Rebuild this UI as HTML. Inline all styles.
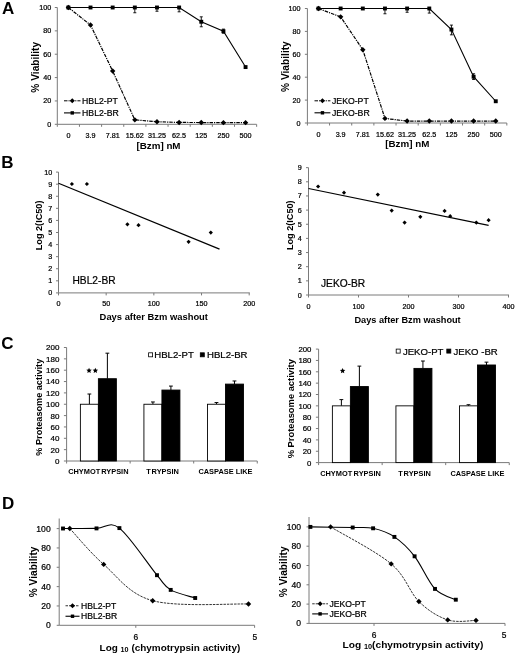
<!DOCTYPE html>
<html><head><meta charset="utf-8"><style>
html,body{margin:0;padding:0;background:#fff;}
svg{display:block;font-family:"Liberation Sans", sans-serif;filter:blur(0.3px);}
</style></head><body>
<svg width="520" height="654" viewBox="0 0 520 654">
<rect width="520" height="654" fill="#fff"/>
<text x="2.00" y="13.50" font-size="17" text-anchor="start" font-weight="bold" fill="#000">A</text>
<text x="1.30" y="167.50" font-size="17" text-anchor="start" font-weight="bold" fill="#000">B</text>
<text x="1.20" y="349.00" font-size="17" text-anchor="start" font-weight="bold" fill="#000">C</text>
<text x="1.90" y="508.50" font-size="17" text-anchor="start" font-weight="bold" fill="#000">D</text>
<line x1="57.30" y1="7.50" x2="57.30" y2="124.30" stroke="#7a7a7a" stroke-width="1"/>
<line x1="57.30" y1="124.30" x2="256.60" y2="124.30" stroke="#7a7a7a" stroke-width="1"/>
<line x1="54.80" y1="124.30" x2="57.30" y2="124.30" stroke="#7a7a7a" stroke-width="1"/>
<text x="51.30" y="126.80" font-size="7.2" text-anchor="end" stroke="#000" stroke-width="0.22" fill="#000">0</text>
<line x1="54.80" y1="100.94" x2="57.30" y2="100.94" stroke="#7a7a7a" stroke-width="1"/>
<text x="51.30" y="103.44" font-size="7.2" text-anchor="end" stroke="#000" stroke-width="0.22" fill="#000">20</text>
<line x1="54.80" y1="77.58" x2="57.30" y2="77.58" stroke="#7a7a7a" stroke-width="1"/>
<text x="51.30" y="80.08" font-size="7.2" text-anchor="end" stroke="#000" stroke-width="0.22" fill="#000">40</text>
<line x1="54.80" y1="54.22" x2="57.30" y2="54.22" stroke="#7a7a7a" stroke-width="1"/>
<text x="51.30" y="56.72" font-size="7.2" text-anchor="end" stroke="#000" stroke-width="0.22" fill="#000">60</text>
<line x1="54.80" y1="30.86" x2="57.30" y2="30.86" stroke="#7a7a7a" stroke-width="1"/>
<text x="51.30" y="33.36" font-size="7.2" text-anchor="end" stroke="#000" stroke-width="0.22" fill="#000">80</text>
<line x1="54.80" y1="7.50" x2="57.30" y2="7.50" stroke="#7a7a7a" stroke-width="1"/>
<text x="51.30" y="10.00" font-size="7.2" text-anchor="end" stroke="#000" stroke-width="0.22" fill="#000">100</text>
<line x1="57.30" y1="124.30" x2="57.30" y2="126.80" stroke="#7a7a7a" stroke-width="1"/>
<line x1="79.45" y1="124.30" x2="79.45" y2="126.80" stroke="#7a7a7a" stroke-width="1"/>
<line x1="101.60" y1="124.30" x2="101.60" y2="126.80" stroke="#7a7a7a" stroke-width="1"/>
<line x1="123.75" y1="124.30" x2="123.75" y2="126.80" stroke="#7a7a7a" stroke-width="1"/>
<line x1="145.90" y1="124.30" x2="145.90" y2="126.80" stroke="#7a7a7a" stroke-width="1"/>
<line x1="168.05" y1="124.30" x2="168.05" y2="126.80" stroke="#7a7a7a" stroke-width="1"/>
<line x1="190.20" y1="124.30" x2="190.20" y2="126.80" stroke="#7a7a7a" stroke-width="1"/>
<line x1="212.35" y1="124.30" x2="212.35" y2="126.80" stroke="#7a7a7a" stroke-width="1"/>
<line x1="234.50" y1="124.30" x2="234.50" y2="126.80" stroke="#7a7a7a" stroke-width="1"/>
<line x1="256.65" y1="124.30" x2="256.65" y2="126.80" stroke="#7a7a7a" stroke-width="1"/>
<text x="68.38" y="138.00" font-size="7.2" text-anchor="middle" stroke="#000" stroke-width="0.22" fill="#000">0</text>
<text x="90.52" y="138.00" font-size="7.2" text-anchor="middle" stroke="#000" stroke-width="0.22" fill="#000">3.9</text>
<text x="112.67" y="138.00" font-size="7.2" text-anchor="middle" stroke="#000" stroke-width="0.22" fill="#000">7.81</text>
<text x="134.82" y="138.00" font-size="7.2" text-anchor="middle" stroke="#000" stroke-width="0.22" fill="#000">15.62</text>
<text x="156.97" y="138.00" font-size="7.2" text-anchor="middle" stroke="#000" stroke-width="0.22" fill="#000">31.25</text>
<text x="179.12" y="138.00" font-size="7.2" text-anchor="middle" stroke="#000" stroke-width="0.22" fill="#000">62.5</text>
<text x="201.27" y="138.00" font-size="7.2" text-anchor="middle" stroke="#000" stroke-width="0.22" fill="#000">125</text>
<text x="223.43" y="138.00" font-size="7.2" text-anchor="middle" stroke="#000" stroke-width="0.22" fill="#000">250</text>
<text x="245.57" y="138.00" font-size="7.2" text-anchor="middle" stroke="#000" stroke-width="0.22" fill="#000">500</text>
<line x1="134.82" y1="7.50" x2="134.82" y2="12.76" stroke="#000" stroke-width="0.9"/>
<line x1="133.32" y1="12.76" x2="136.32" y2="12.76" stroke="#000" stroke-width="0.9"/>
<line x1="156.97" y1="7.50" x2="156.97" y2="11.24" stroke="#000" stroke-width="0.9"/>
<line x1="155.47" y1="11.24" x2="158.47" y2="11.24" stroke="#000" stroke-width="0.9"/>
<line x1="179.12" y1="7.50" x2="179.12" y2="11.82" stroke="#000" stroke-width="0.9"/>
<line x1="177.62" y1="11.82" x2="180.62" y2="11.82" stroke="#000" stroke-width="0.9"/>
<line x1="201.27" y1="21.75" x2="201.27" y2="16.84" stroke="#000" stroke-width="0.9"/>
<line x1="199.77" y1="16.84" x2="202.77" y2="16.84" stroke="#000" stroke-width="0.9"/>
<line x1="201.27" y1="21.75" x2="201.27" y2="26.77" stroke="#000" stroke-width="0.9"/>
<line x1="199.77" y1="26.77" x2="202.77" y2="26.77" stroke="#000" stroke-width="0.9"/>
<line x1="223.43" y1="31.21" x2="223.43" y2="29.11" stroke="#000" stroke-width="0.9"/>
<line x1="221.93" y1="29.11" x2="224.93" y2="29.11" stroke="#000" stroke-width="0.9"/>
<line x1="223.43" y1="31.21" x2="223.43" y2="33.20" stroke="#000" stroke-width="0.9"/>
<line x1="221.93" y1="33.20" x2="224.93" y2="33.20" stroke="#000" stroke-width="0.9"/>
<polyline points="68.38,7.50 90.52,7.50 112.67,7.50 134.82,7.50 156.97,7.50 179.12,7.50 201.27,21.75 223.43,31.21 245.57,67.07" fill="none" stroke="#000" stroke-width="1.1"/>
<polyline points="68.38,7.50 90.52,25.02 112.67,71.04 134.82,119.86 156.97,121.73 179.12,122.43 201.27,122.55 223.43,122.66 245.57,122.66" fill="none" stroke="#000" stroke-width="1.2" stroke-dasharray="3.5 1 1.2 1"/>
<rect x="66.42" y="5.55" width="3.9" height="3.9" fill="#000"/>
<rect x="88.57" y="5.55" width="3.9" height="3.9" fill="#000"/>
<rect x="110.72" y="5.55" width="3.9" height="3.9" fill="#000"/>
<rect x="132.88" y="5.55" width="3.9" height="3.9" fill="#000"/>
<rect x="155.03" y="5.55" width="3.9" height="3.9" fill="#000"/>
<rect x="177.18" y="5.55" width="3.9" height="3.9" fill="#000"/>
<rect x="199.32" y="19.80" width="3.9" height="3.9" fill="#000"/>
<rect x="221.48" y="29.26" width="3.9" height="3.9" fill="#000"/>
<rect x="243.62" y="65.12" width="3.9" height="3.9" fill="#000"/>
<path d="M68.38 4.80L71.08 7.50L68.38 10.20L65.67 7.50Z" fill="#000"/>
<path d="M90.52 22.32L93.22 25.02L90.52 27.72L87.82 25.02Z" fill="#000"/>
<path d="M112.67 68.34L115.38 71.04L112.67 73.74L109.97 71.04Z" fill="#000"/>
<path d="M134.82 117.16L137.52 119.86L134.82 122.56L132.12 119.86Z" fill="#000"/>
<path d="M156.97 119.03L159.67 121.73L156.97 124.43L154.28 121.73Z" fill="#000"/>
<path d="M179.12 119.73L181.82 122.43L179.12 125.13L176.43 122.43Z" fill="#000"/>
<path d="M201.27 119.85L203.97 122.55L201.27 125.25L198.57 122.55Z" fill="#000"/>
<path d="M223.43 119.96L226.12 122.66L223.43 125.36L220.73 122.66Z" fill="#000"/>
<path d="M245.57 119.96L248.27 122.66L245.57 125.36L242.88 122.66Z" fill="#000"/>
<line x1="64.00" y1="100.80" x2="80.50" y2="100.80" stroke="#000" stroke-width="1" stroke-dasharray="3.5 1 1.2 1"/>
<path d="M72.25 98.30L74.75 100.80L72.25 103.30L69.75 100.80Z" fill="#000"/>
<line x1="64.00" y1="112.90" x2="80.50" y2="112.90" stroke="#000" stroke-width="1.1"/>
<rect x="70.55" y="111.20" width="3.4" height="3.4" fill="#000"/>
<text x="82.10" y="104.30" font-size="8.7" text-anchor="start" stroke="#000" stroke-width="0.22" fill="#000">HBL2-PT</text>
<text x="82.10" y="116.40" font-size="8.7" text-anchor="start" stroke="#000" stroke-width="0.22" fill="#000">HBL2-BR</text>
<text x="39.10" y="67.30" font-size="10.2" text-anchor="middle" font-weight="bold" transform="rotate(-90 39.10 67.30)" fill="#000">% Viability</text>
<text x="158.50" y="148.70" font-size="9.8" text-anchor="middle" font-weight="bold" fill="#000">[Bzm] nM</text>
<line x1="307.40" y1="8.50" x2="307.40" y2="123.00" stroke="#7a7a7a" stroke-width="1"/>
<line x1="307.40" y1="123.00" x2="506.80" y2="123.00" stroke="#7a7a7a" stroke-width="1"/>
<line x1="304.90" y1="123.00" x2="307.40" y2="123.00" stroke="#7a7a7a" stroke-width="1"/>
<text x="300.40" y="125.50" font-size="7.2" text-anchor="end" stroke="#000" stroke-width="0.22" fill="#000">0</text>
<line x1="304.90" y1="100.10" x2="307.40" y2="100.10" stroke="#7a7a7a" stroke-width="1"/>
<text x="300.40" y="102.60" font-size="7.2" text-anchor="end" stroke="#000" stroke-width="0.22" fill="#000">20</text>
<line x1="304.90" y1="77.20" x2="307.40" y2="77.20" stroke="#7a7a7a" stroke-width="1"/>
<text x="300.40" y="79.70" font-size="7.2" text-anchor="end" stroke="#000" stroke-width="0.22" fill="#000">40</text>
<line x1="304.90" y1="54.30" x2="307.40" y2="54.30" stroke="#7a7a7a" stroke-width="1"/>
<text x="300.40" y="56.80" font-size="7.2" text-anchor="end" stroke="#000" stroke-width="0.22" fill="#000">60</text>
<line x1="304.90" y1="31.40" x2="307.40" y2="31.40" stroke="#7a7a7a" stroke-width="1"/>
<text x="300.40" y="33.90" font-size="7.2" text-anchor="end" stroke="#000" stroke-width="0.22" fill="#000">80</text>
<line x1="304.90" y1="8.50" x2="307.40" y2="8.50" stroke="#7a7a7a" stroke-width="1"/>
<text x="300.40" y="11.00" font-size="7.2" text-anchor="end" stroke="#000" stroke-width="0.22" fill="#000">100</text>
<line x1="307.40" y1="123.00" x2="307.40" y2="125.50" stroke="#7a7a7a" stroke-width="1"/>
<line x1="329.56" y1="123.00" x2="329.56" y2="125.50" stroke="#7a7a7a" stroke-width="1"/>
<line x1="351.72" y1="123.00" x2="351.72" y2="125.50" stroke="#7a7a7a" stroke-width="1"/>
<line x1="373.88" y1="123.00" x2="373.88" y2="125.50" stroke="#7a7a7a" stroke-width="1"/>
<line x1="396.04" y1="123.00" x2="396.04" y2="125.50" stroke="#7a7a7a" stroke-width="1"/>
<line x1="418.20" y1="123.00" x2="418.20" y2="125.50" stroke="#7a7a7a" stroke-width="1"/>
<line x1="440.36" y1="123.00" x2="440.36" y2="125.50" stroke="#7a7a7a" stroke-width="1"/>
<line x1="462.52" y1="123.00" x2="462.52" y2="125.50" stroke="#7a7a7a" stroke-width="1"/>
<line x1="484.68" y1="123.00" x2="484.68" y2="125.50" stroke="#7a7a7a" stroke-width="1"/>
<line x1="506.84" y1="123.00" x2="506.84" y2="125.50" stroke="#7a7a7a" stroke-width="1"/>
<text x="318.48" y="137.10" font-size="7.2" text-anchor="middle" stroke="#000" stroke-width="0.22" fill="#000">0</text>
<text x="340.64" y="137.10" font-size="7.2" text-anchor="middle" stroke="#000" stroke-width="0.22" fill="#000">3.9</text>
<text x="362.80" y="137.10" font-size="7.2" text-anchor="middle" stroke="#000" stroke-width="0.22" fill="#000">7.81</text>
<text x="384.96" y="137.10" font-size="7.2" text-anchor="middle" stroke="#000" stroke-width="0.22" fill="#000">15.62</text>
<text x="407.12" y="137.10" font-size="7.2" text-anchor="middle" stroke="#000" stroke-width="0.22" fill="#000">31.25</text>
<text x="429.28" y="137.10" font-size="7.2" text-anchor="middle" stroke="#000" stroke-width="0.22" fill="#000">62.5</text>
<text x="451.44" y="137.10" font-size="7.2" text-anchor="middle" stroke="#000" stroke-width="0.22" fill="#000">125</text>
<text x="473.60" y="137.10" font-size="7.2" text-anchor="middle" stroke="#000" stroke-width="0.22" fill="#000">250</text>
<text x="495.76" y="137.10" font-size="7.2" text-anchor="middle" stroke="#000" stroke-width="0.22" fill="#000">500</text>
<line x1="384.96" y1="8.50" x2="384.96" y2="13.77" stroke="#000" stroke-width="0.9"/>
<line x1="383.46" y1="13.77" x2="386.46" y2="13.77" stroke="#000" stroke-width="0.9"/>
<line x1="407.12" y1="8.50" x2="407.12" y2="12.28" stroke="#000" stroke-width="0.9"/>
<line x1="405.62" y1="12.28" x2="408.62" y2="12.28" stroke="#000" stroke-width="0.9"/>
<line x1="429.28" y1="8.50" x2="429.28" y2="13.08" stroke="#000" stroke-width="0.9"/>
<line x1="427.78" y1="13.08" x2="430.78" y2="13.08" stroke="#000" stroke-width="0.9"/>
<line x1="451.44" y1="29.57" x2="451.44" y2="25.10" stroke="#000" stroke-width="0.9"/>
<line x1="449.94" y1="25.10" x2="452.94" y2="25.10" stroke="#000" stroke-width="0.9"/>
<line x1="451.44" y1="29.57" x2="451.44" y2="34.83" stroke="#000" stroke-width="0.9"/>
<line x1="449.94" y1="34.83" x2="452.94" y2="34.83" stroke="#000" stroke-width="0.9"/>
<line x1="473.60" y1="76.74" x2="473.60" y2="73.77" stroke="#000" stroke-width="0.9"/>
<line x1="472.10" y1="73.77" x2="475.10" y2="73.77" stroke="#000" stroke-width="0.9"/>
<line x1="473.60" y1="76.74" x2="473.60" y2="79.49" stroke="#000" stroke-width="0.9"/>
<line x1="472.10" y1="79.49" x2="475.10" y2="79.49" stroke="#000" stroke-width="0.9"/>
<polyline points="318.48,8.50 340.64,8.50 362.80,8.50 384.96,8.50 407.12,8.50 429.28,8.50 451.44,29.57 473.60,76.74 495.76,101.25" fill="none" stroke="#000" stroke-width="1.1"/>
<polyline points="318.48,8.50 340.64,16.86 362.80,49.72 384.96,118.42 407.12,121.05 429.28,121.05 451.44,121.05 473.60,121.05 495.76,121.05" fill="none" stroke="#000" stroke-width="1.2" stroke-dasharray="3.5 1 1.2 1"/>
<rect x="316.53" y="6.55" width="3.9" height="3.9" fill="#000"/>
<rect x="338.69" y="6.55" width="3.9" height="3.9" fill="#000"/>
<rect x="360.85" y="6.55" width="3.9" height="3.9" fill="#000"/>
<rect x="383.01" y="6.55" width="3.9" height="3.9" fill="#000"/>
<rect x="405.17" y="6.55" width="3.9" height="3.9" fill="#000"/>
<rect x="427.33" y="6.55" width="3.9" height="3.9" fill="#000"/>
<rect x="449.49" y="27.62" width="3.9" height="3.9" fill="#000"/>
<rect x="471.65" y="74.79" width="3.9" height="3.9" fill="#000"/>
<rect x="493.81" y="99.30" width="3.9" height="3.9" fill="#000"/>
<path d="M318.48 5.80L321.18 8.50L318.48 11.20L315.78 8.50Z" fill="#000"/>
<path d="M340.64 14.16L343.34 16.86L340.64 19.56L337.94 16.86Z" fill="#000"/>
<path d="M362.80 47.02L365.50 49.72L362.80 52.42L360.10 49.72Z" fill="#000"/>
<path d="M384.96 115.72L387.66 118.42L384.96 121.12L382.26 118.42Z" fill="#000"/>
<path d="M407.12 118.35L409.82 121.05L407.12 123.75L404.42 121.05Z" fill="#000"/>
<path d="M429.28 118.35L431.98 121.05L429.28 123.75L426.58 121.05Z" fill="#000"/>
<path d="M451.44 118.35L454.14 121.05L451.44 123.75L448.74 121.05Z" fill="#000"/>
<path d="M473.60 118.35L476.30 121.05L473.60 123.75L470.90 121.05Z" fill="#000"/>
<path d="M495.76 118.35L498.46 121.05L495.76 123.75L493.06 121.05Z" fill="#000"/>
<line x1="314.50" y1="100.80" x2="330.40" y2="100.80" stroke="#000" stroke-width="1" stroke-dasharray="3.5 1 1.2 1"/>
<path d="M322.45 98.30L324.95 100.80L322.45 103.30L319.95 100.80Z" fill="#000"/>
<line x1="314.50" y1="112.80" x2="330.40" y2="112.80" stroke="#000" stroke-width="1.1"/>
<rect x="320.75" y="111.10" width="3.4" height="3.4" fill="#000"/>
<text x="332.00" y="104.30" font-size="8.7" text-anchor="start" stroke="#000" stroke-width="0.22" fill="#000">JEKO-PT</text>
<text x="332.00" y="116.30" font-size="8.7" text-anchor="start" stroke="#000" stroke-width="0.22" fill="#000">JEKO-BR</text>
<text x="288.80" y="66.60" font-size="10.2" text-anchor="middle" font-weight="bold" transform="rotate(-90 288.80 66.60)" fill="#000">% Viability</text>
<text x="407.30" y="147.10" font-size="9.8" text-anchor="middle" font-weight="bold" fill="#000">[Bzm] nM</text>
<line x1="58.50" y1="172.10" x2="58.50" y2="292.90" stroke="#7a7a7a" stroke-width="1"/>
<line x1="58.50" y1="292.90" x2="249.80" y2="292.90" stroke="#7a7a7a" stroke-width="1"/>
<line x1="56.00" y1="292.90" x2="58.50" y2="292.90" stroke="#7a7a7a" stroke-width="1"/>
<text x="52.30" y="295.40" font-size="7.2" text-anchor="end" stroke="#000" stroke-width="0.22" fill="#000">0</text>
<line x1="56.00" y1="280.82" x2="58.50" y2="280.82" stroke="#7a7a7a" stroke-width="1"/>
<text x="52.30" y="283.32" font-size="7.2" text-anchor="end" stroke="#000" stroke-width="0.22" fill="#000">1</text>
<line x1="56.00" y1="268.74" x2="58.50" y2="268.74" stroke="#7a7a7a" stroke-width="1"/>
<text x="52.30" y="271.24" font-size="7.2" text-anchor="end" stroke="#000" stroke-width="0.22" fill="#000">2</text>
<line x1="56.00" y1="256.66" x2="58.50" y2="256.66" stroke="#7a7a7a" stroke-width="1"/>
<text x="52.30" y="259.16" font-size="7.2" text-anchor="end" stroke="#000" stroke-width="0.22" fill="#000">3</text>
<line x1="56.00" y1="244.58" x2="58.50" y2="244.58" stroke="#7a7a7a" stroke-width="1"/>
<text x="52.30" y="247.08" font-size="7.2" text-anchor="end" stroke="#000" stroke-width="0.22" fill="#000">4</text>
<line x1="56.00" y1="232.50" x2="58.50" y2="232.50" stroke="#7a7a7a" stroke-width="1"/>
<text x="52.30" y="235.00" font-size="7.2" text-anchor="end" stroke="#000" stroke-width="0.22" fill="#000">5</text>
<line x1="56.00" y1="220.42" x2="58.50" y2="220.42" stroke="#7a7a7a" stroke-width="1"/>
<text x="52.30" y="222.92" font-size="7.2" text-anchor="end" stroke="#000" stroke-width="0.22" fill="#000">6</text>
<line x1="56.00" y1="208.34" x2="58.50" y2="208.34" stroke="#7a7a7a" stroke-width="1"/>
<text x="52.30" y="210.84" font-size="7.2" text-anchor="end" stroke="#000" stroke-width="0.22" fill="#000">7</text>
<line x1="56.00" y1="196.26" x2="58.50" y2="196.26" stroke="#7a7a7a" stroke-width="1"/>
<text x="52.30" y="198.76" font-size="7.2" text-anchor="end" stroke="#000" stroke-width="0.22" fill="#000">8</text>
<line x1="56.00" y1="184.18" x2="58.50" y2="184.18" stroke="#7a7a7a" stroke-width="1"/>
<text x="52.30" y="186.68" font-size="7.2" text-anchor="end" stroke="#000" stroke-width="0.22" fill="#000">9</text>
<line x1="56.00" y1="172.10" x2="58.50" y2="172.10" stroke="#7a7a7a" stroke-width="1"/>
<text x="52.30" y="174.60" font-size="7.2" text-anchor="end" stroke="#000" stroke-width="0.22" fill="#000">10</text>
<line x1="58.50" y1="292.90" x2="58.50" y2="295.40" stroke="#7a7a7a" stroke-width="1"/>
<text x="58.50" y="306.30" font-size="7.2" text-anchor="middle" stroke="#000" stroke-width="0.22" fill="#000">0</text>
<line x1="106.17" y1="292.90" x2="106.17" y2="295.40" stroke="#7a7a7a" stroke-width="1"/>
<text x="106.17" y="306.30" font-size="7.2" text-anchor="middle" stroke="#000" stroke-width="0.22" fill="#000">50</text>
<line x1="153.85" y1="292.90" x2="153.85" y2="295.40" stroke="#7a7a7a" stroke-width="1"/>
<text x="153.85" y="306.30" font-size="7.2" text-anchor="middle" stroke="#000" stroke-width="0.22" fill="#000">100</text>
<line x1="201.53" y1="292.90" x2="201.53" y2="295.40" stroke="#7a7a7a" stroke-width="1"/>
<text x="201.53" y="306.30" font-size="7.2" text-anchor="middle" stroke="#000" stroke-width="0.22" fill="#000">150</text>
<line x1="249.20" y1="292.90" x2="249.20" y2="295.40" stroke="#7a7a7a" stroke-width="1"/>
<text x="249.20" y="306.30" font-size="7.2" text-anchor="middle" stroke="#000" stroke-width="0.22" fill="#000">200</text>
<line x1="58.50" y1="183.20" x2="219.50" y2="249.10" stroke="#000" stroke-width="1.2"/>
<path d="M71.90 181.90L74.00 184.00L71.90 186.10L69.80 184.00Z" fill="#000"/>
<path d="M86.90 181.90L89.00 184.00L86.90 186.10L84.80 184.00Z" fill="#000"/>
<path d="M127.40 222.20L129.50 224.30L127.40 226.40L125.30 224.30Z" fill="#000"/>
<path d="M138.50 223.10L140.60 225.20L138.50 227.30L136.40 225.20Z" fill="#000"/>
<path d="M188.60 239.70L190.70 241.80L188.60 243.90L186.50 241.80Z" fill="#000"/>
<path d="M210.80 230.50L212.90 232.60L210.80 234.70L208.70 232.60Z" fill="#000"/>
<text x="72.50" y="284.20" font-size="10.2" text-anchor="start" stroke="#000" stroke-width="0.22" fill="#000">HBL2-BR</text>
<text x="42.00" y="225.40" font-size="9.15" text-anchor="middle" font-weight="bold" transform="rotate(-90 42.00 225.40)" fill="#000">Log 2(IC50)</text>
<text x="153.80" y="320.40" font-size="9.4" text-anchor="middle" font-weight="bold" fill="#000">Days after Bzm washout</text>
<line x1="308.50" y1="167.65" x2="308.50" y2="295.00" stroke="#7a7a7a" stroke-width="1"/>
<line x1="308.50" y1="295.00" x2="509.00" y2="295.00" stroke="#7a7a7a" stroke-width="1"/>
<line x1="306.00" y1="295.00" x2="308.50" y2="295.00" stroke="#7a7a7a" stroke-width="1"/>
<text x="301.80" y="297.50" font-size="7.2" text-anchor="end" stroke="#000" stroke-width="0.22" fill="#000">0</text>
<line x1="306.00" y1="280.85" x2="308.50" y2="280.85" stroke="#7a7a7a" stroke-width="1"/>
<text x="301.80" y="283.35" font-size="7.2" text-anchor="end" stroke="#000" stroke-width="0.22" fill="#000">1</text>
<line x1="306.00" y1="266.70" x2="308.50" y2="266.70" stroke="#7a7a7a" stroke-width="1"/>
<text x="301.80" y="269.20" font-size="7.2" text-anchor="end" stroke="#000" stroke-width="0.22" fill="#000">2</text>
<line x1="306.00" y1="252.55" x2="308.50" y2="252.55" stroke="#7a7a7a" stroke-width="1"/>
<text x="301.80" y="255.05" font-size="7.2" text-anchor="end" stroke="#000" stroke-width="0.22" fill="#000">3</text>
<line x1="306.00" y1="238.40" x2="308.50" y2="238.40" stroke="#7a7a7a" stroke-width="1"/>
<text x="301.80" y="240.90" font-size="7.2" text-anchor="end" stroke="#000" stroke-width="0.22" fill="#000">4</text>
<line x1="306.00" y1="224.25" x2="308.50" y2="224.25" stroke="#7a7a7a" stroke-width="1"/>
<text x="301.80" y="226.75" font-size="7.2" text-anchor="end" stroke="#000" stroke-width="0.22" fill="#000">5</text>
<line x1="306.00" y1="210.10" x2="308.50" y2="210.10" stroke="#7a7a7a" stroke-width="1"/>
<text x="301.80" y="212.60" font-size="7.2" text-anchor="end" stroke="#000" stroke-width="0.22" fill="#000">6</text>
<line x1="306.00" y1="195.95" x2="308.50" y2="195.95" stroke="#7a7a7a" stroke-width="1"/>
<text x="301.80" y="198.45" font-size="7.2" text-anchor="end" stroke="#000" stroke-width="0.22" fill="#000">7</text>
<line x1="306.00" y1="181.80" x2="308.50" y2="181.80" stroke="#7a7a7a" stroke-width="1"/>
<text x="301.80" y="184.30" font-size="7.2" text-anchor="end" stroke="#000" stroke-width="0.22" fill="#000">8</text>
<line x1="306.00" y1="167.65" x2="308.50" y2="167.65" stroke="#7a7a7a" stroke-width="1"/>
<text x="301.80" y="170.15" font-size="7.2" text-anchor="end" stroke="#000" stroke-width="0.22" fill="#000">9</text>
<line x1="308.50" y1="295.00" x2="308.50" y2="297.50" stroke="#7a7a7a" stroke-width="1"/>
<text x="308.50" y="308.50" font-size="7.2" text-anchor="middle" stroke="#000" stroke-width="0.22" fill="#000">0</text>
<line x1="358.50" y1="295.00" x2="358.50" y2="297.50" stroke="#7a7a7a" stroke-width="1"/>
<text x="358.50" y="308.50" font-size="7.2" text-anchor="middle" stroke="#000" stroke-width="0.22" fill="#000">100</text>
<line x1="408.50" y1="295.00" x2="408.50" y2="297.50" stroke="#7a7a7a" stroke-width="1"/>
<text x="408.50" y="308.50" font-size="7.2" text-anchor="middle" stroke="#000" stroke-width="0.22" fill="#000">200</text>
<line x1="458.50" y1="295.00" x2="458.50" y2="297.50" stroke="#7a7a7a" stroke-width="1"/>
<text x="458.50" y="308.50" font-size="7.2" text-anchor="middle" stroke="#000" stroke-width="0.22" fill="#000">300</text>
<line x1="508.50" y1="295.00" x2="508.50" y2="297.50" stroke="#7a7a7a" stroke-width="1"/>
<text x="508.50" y="308.50" font-size="7.2" text-anchor="middle" stroke="#000" stroke-width="0.22" fill="#000">400</text>
<line x1="308.50" y1="188.50" x2="488.60" y2="225.40" stroke="#000" stroke-width="1.2"/>
<path d="M318.10 184.40L320.20 186.50L318.10 188.60L316.00 186.50Z" fill="#000"/>
<path d="M344.00 190.60L346.10 192.70L344.00 194.80L341.90 192.70Z" fill="#000"/>
<path d="M377.80 192.50L379.90 194.60L377.80 196.70L375.70 194.60Z" fill="#000"/>
<path d="M391.70 208.50L393.80 210.60L391.70 212.70L389.60 210.60Z" fill="#000"/>
<path d="M404.60 220.50L406.70 222.60L404.60 224.70L402.50 222.60Z" fill="#000"/>
<path d="M420.30 214.70L422.40 216.80L420.30 218.90L418.20 216.80Z" fill="#000"/>
<path d="M444.60 208.80L446.70 210.90L444.60 213.00L442.50 210.90Z" fill="#000"/>
<path d="M450.20 214.10L452.30 216.20L450.20 218.30L448.10 216.20Z" fill="#000"/>
<path d="M476.30 220.50L478.40 222.60L476.30 224.70L474.20 222.60Z" fill="#000"/>
<path d="M488.60 218.10L490.70 220.20L488.60 222.30L486.50 220.20Z" fill="#000"/>
<text x="321.00" y="286.70" font-size="10.2" text-anchor="start" stroke="#000" stroke-width="0.22" fill="#000">JEKO-BR</text>
<text x="293.20" y="225.20" font-size="9.15" text-anchor="middle" font-weight="bold" transform="rotate(-90 293.20 225.20)" fill="#000">Log 2(IC50)</text>
<text x="407.60" y="323.00" font-size="9.2" text-anchor="middle" font-weight="bold" fill="#000">Days after Bzm washout</text>
<line x1="66.60" y1="347.50" x2="66.60" y2="461.00" stroke="#7a7a7a" stroke-width="1"/>
<line x1="66.60" y1="461.00" x2="257.25" y2="461.00" stroke="#7a7a7a" stroke-width="1"/>
<line x1="63.90" y1="461.00" x2="66.60" y2="461.00" stroke="#7a7a7a" stroke-width="1"/>
<text x="59.40" y="463.90" font-size="8.0" text-anchor="end" stroke="#000" stroke-width="0.22" fill="#000">0</text>
<line x1="63.90" y1="449.65" x2="66.60" y2="449.65" stroke="#7a7a7a" stroke-width="1"/>
<text x="59.40" y="452.55" font-size="8.0" text-anchor="end" stroke="#000" stroke-width="0.22" fill="#000">20</text>
<line x1="63.90" y1="438.30" x2="66.60" y2="438.30" stroke="#7a7a7a" stroke-width="1"/>
<text x="59.40" y="441.20" font-size="8.0" text-anchor="end" stroke="#000" stroke-width="0.22" fill="#000">40</text>
<line x1="63.90" y1="426.95" x2="66.60" y2="426.95" stroke="#7a7a7a" stroke-width="1"/>
<text x="59.40" y="429.85" font-size="8.0" text-anchor="end" stroke="#000" stroke-width="0.22" fill="#000">60</text>
<line x1="63.90" y1="415.60" x2="66.60" y2="415.60" stroke="#7a7a7a" stroke-width="1"/>
<text x="59.40" y="418.50" font-size="8.0" text-anchor="end" stroke="#000" stroke-width="0.22" fill="#000">80</text>
<line x1="63.90" y1="404.25" x2="66.60" y2="404.25" stroke="#7a7a7a" stroke-width="1"/>
<text x="59.40" y="407.15" font-size="8.0" text-anchor="end" stroke="#000" stroke-width="0.22" fill="#000">100</text>
<line x1="63.90" y1="392.90" x2="66.60" y2="392.90" stroke="#7a7a7a" stroke-width="1"/>
<text x="59.40" y="395.80" font-size="8.0" text-anchor="end" stroke="#000" stroke-width="0.22" fill="#000">120</text>
<line x1="63.90" y1="381.55" x2="66.60" y2="381.55" stroke="#7a7a7a" stroke-width="1"/>
<text x="59.40" y="384.45" font-size="8.0" text-anchor="end" stroke="#000" stroke-width="0.22" fill="#000">140</text>
<line x1="63.90" y1="370.20" x2="66.60" y2="370.20" stroke="#7a7a7a" stroke-width="1"/>
<text x="59.40" y="373.10" font-size="8.0" text-anchor="end" stroke="#000" stroke-width="0.22" fill="#000">160</text>
<line x1="63.90" y1="358.85" x2="66.60" y2="358.85" stroke="#7a7a7a" stroke-width="1"/>
<text x="59.40" y="361.75" font-size="8.0" text-anchor="end" stroke="#000" stroke-width="0.22" fill="#000">180</text>
<line x1="63.90" y1="347.50" x2="66.60" y2="347.50" stroke="#7a7a7a" stroke-width="1"/>
<text x="59.40" y="350.40" font-size="8.0" text-anchor="end" stroke="#000" stroke-width="0.22" fill="#000">200</text>
<line x1="66.60" y1="461.00" x2="66.60" y2="463.50" stroke="#7a7a7a" stroke-width="1"/>
<line x1="130.15" y1="461.00" x2="130.15" y2="463.50" stroke="#7a7a7a" stroke-width="1"/>
<line x1="193.70" y1="461.00" x2="193.70" y2="463.50" stroke="#7a7a7a" stroke-width="1"/>
<line x1="257.25" y1="461.00" x2="257.25" y2="463.50" stroke="#7a7a7a" stroke-width="1"/>
<line x1="89.38" y1="404.25" x2="89.38" y2="394.03" stroke="#000" stroke-width="1.0"/>
<line x1="87.47" y1="394.03" x2="91.28" y2="394.03" stroke="#000" stroke-width="1.0"/>
<line x1="107.38" y1="378.71" x2="107.38" y2="353.18" stroke="#000" stroke-width="1.0"/>
<line x1="105.47" y1="353.18" x2="109.28" y2="353.18" stroke="#000" stroke-width="1.0"/>
<rect x="80.38" y="404.25" width="18.00" height="56.75" fill="#fff" stroke="#000" stroke-width="0.9"/>
<rect x="98.38" y="378.71" width="18.00" height="82.29" fill="#000" stroke="#000" stroke-width="0.9"/>
<text x="68.17" y="474.40" font-size="7.4" text-anchor="start" font-weight="bold" fill="#000">CHYMOT</text>
<text x="101.28" y="474.40" font-size="7.4" text-anchor="start" font-weight="bold" fill="#000">RYPSIN</text>
<line x1="152.92" y1="404.25" x2="152.92" y2="401.98" stroke="#000" stroke-width="1.0"/>
<line x1="151.02" y1="401.98" x2="154.82" y2="401.98" stroke="#000" stroke-width="1.0"/>
<line x1="170.92" y1="390.06" x2="170.92" y2="386.09" stroke="#000" stroke-width="1.0"/>
<line x1="169.02" y1="386.09" x2="172.82" y2="386.09" stroke="#000" stroke-width="1.0"/>
<rect x="143.92" y="404.25" width="18.00" height="56.75" fill="#fff" stroke="#000" stroke-width="0.9"/>
<rect x="161.92" y="390.06" width="18.00" height="70.94" fill="#000" stroke="#000" stroke-width="0.9"/>
<text x="146.32" y="474.40" font-size="7.4" text-anchor="start" font-weight="bold" fill="#000">T</text>
<text x="151.62" y="474.40" font-size="7.4" text-anchor="start" font-weight="bold" fill="#000">RYPSIN</text>
<line x1="216.47" y1="404.25" x2="216.47" y2="402.55" stroke="#000" stroke-width="1.0"/>
<line x1="214.57" y1="402.55" x2="218.38" y2="402.55" stroke="#000" stroke-width="1.0"/>
<line x1="234.47" y1="384.10" x2="234.47" y2="380.98" stroke="#000" stroke-width="1.0"/>
<line x1="232.57" y1="380.98" x2="236.38" y2="380.98" stroke="#000" stroke-width="1.0"/>
<rect x="207.47" y="404.25" width="18.00" height="56.75" fill="#fff" stroke="#000" stroke-width="0.9"/>
<rect x="225.47" y="384.10" width="18.00" height="76.90" fill="#000" stroke="#000" stroke-width="0.9"/>
<text x="225.47" y="474.40" font-size="7.4" text-anchor="middle" font-weight="bold" fill="#000">CASPASE LIKE</text>
<rect x="148.60" y="352.80" width="4.00" height="4.00" fill="#fff" stroke="#000" stroke-width="0.8"/>
<text x="154.30" y="358.20" font-size="9.6" text-anchor="start" stroke="#000" stroke-width="0.22" fill="#000">HBL2-PT</text>
<rect x="200.30" y="352.80" width="4.00" height="4.00" fill="#000" stroke="#000" stroke-width="0.8"/>
<text x="207.00" y="358.20" font-size="9.6" text-anchor="start" stroke="#000" stroke-width="0.22" fill="#000">HBL2-BR</text>
<polygon points="89.05,367.80 89.84,369.61 91.81,369.80 90.33,371.12 90.75,373.05 89.05,372.05 87.35,373.05 87.77,371.12 86.29,369.80 88.26,369.61" fill="#000"/>
<polygon points="95.35,367.80 96.14,369.61 98.11,369.80 96.63,371.12 97.05,373.05 95.35,372.05 93.65,373.05 94.07,371.12 92.59,369.80 94.56,369.61" fill="#000"/>
<text x="41.70" y="407.20" font-size="9.13" text-anchor="middle" font-weight="bold" transform="rotate(-90 41.70 407.20)" fill="#000">% Proteasome activity</text>
<line x1="318.60" y1="349.10" x2="318.60" y2="462.60" stroke="#7a7a7a" stroke-width="1"/>
<line x1="318.60" y1="462.60" x2="509.25" y2="462.60" stroke="#7a7a7a" stroke-width="1"/>
<line x1="315.90" y1="462.60" x2="318.60" y2="462.60" stroke="#7a7a7a" stroke-width="1"/>
<text x="311.40" y="465.50" font-size="7.8" text-anchor="end" stroke="#000" stroke-width="0.22" fill="#000">0</text>
<line x1="315.90" y1="451.25" x2="318.60" y2="451.25" stroke="#7a7a7a" stroke-width="1"/>
<text x="311.40" y="454.15" font-size="7.8" text-anchor="end" stroke="#000" stroke-width="0.22" fill="#000">20</text>
<line x1="315.90" y1="439.90" x2="318.60" y2="439.90" stroke="#7a7a7a" stroke-width="1"/>
<text x="311.40" y="442.80" font-size="7.8" text-anchor="end" stroke="#000" stroke-width="0.22" fill="#000">40</text>
<line x1="315.90" y1="428.55" x2="318.60" y2="428.55" stroke="#7a7a7a" stroke-width="1"/>
<text x="311.40" y="431.45" font-size="7.8" text-anchor="end" stroke="#000" stroke-width="0.22" fill="#000">60</text>
<line x1="315.90" y1="417.20" x2="318.60" y2="417.20" stroke="#7a7a7a" stroke-width="1"/>
<text x="311.40" y="420.10" font-size="7.8" text-anchor="end" stroke="#000" stroke-width="0.22" fill="#000">80</text>
<line x1="315.90" y1="405.85" x2="318.60" y2="405.85" stroke="#7a7a7a" stroke-width="1"/>
<text x="311.40" y="408.75" font-size="7.8" text-anchor="end" stroke="#000" stroke-width="0.22" fill="#000">100</text>
<line x1="315.90" y1="394.50" x2="318.60" y2="394.50" stroke="#7a7a7a" stroke-width="1"/>
<text x="311.40" y="397.40" font-size="7.8" text-anchor="end" stroke="#000" stroke-width="0.22" fill="#000">120</text>
<line x1="315.90" y1="383.15" x2="318.60" y2="383.15" stroke="#7a7a7a" stroke-width="1"/>
<text x="311.40" y="386.05" font-size="7.8" text-anchor="end" stroke="#000" stroke-width="0.22" fill="#000">140</text>
<line x1="315.90" y1="371.80" x2="318.60" y2="371.80" stroke="#7a7a7a" stroke-width="1"/>
<text x="311.40" y="374.70" font-size="7.8" text-anchor="end" stroke="#000" stroke-width="0.22" fill="#000">160</text>
<line x1="315.90" y1="360.45" x2="318.60" y2="360.45" stroke="#7a7a7a" stroke-width="1"/>
<text x="311.40" y="363.35" font-size="7.8" text-anchor="end" stroke="#000" stroke-width="0.22" fill="#000">180</text>
<line x1="315.90" y1="349.10" x2="318.60" y2="349.10" stroke="#7a7a7a" stroke-width="1"/>
<text x="311.40" y="352.00" font-size="7.8" text-anchor="end" stroke="#000" stroke-width="0.22" fill="#000">200</text>
<line x1="318.60" y1="462.60" x2="318.60" y2="465.10" stroke="#7a7a7a" stroke-width="1"/>
<line x1="382.15" y1="462.60" x2="382.15" y2="465.10" stroke="#7a7a7a" stroke-width="1"/>
<line x1="445.70" y1="462.60" x2="445.70" y2="465.10" stroke="#7a7a7a" stroke-width="1"/>
<line x1="509.25" y1="462.60" x2="509.25" y2="465.10" stroke="#7a7a7a" stroke-width="1"/>
<line x1="341.38" y1="405.85" x2="341.38" y2="399.61" stroke="#000" stroke-width="1.0"/>
<line x1="339.48" y1="399.61" x2="343.27" y2="399.61" stroke="#000" stroke-width="1.0"/>
<line x1="359.38" y1="386.56" x2="359.38" y2="366.12" stroke="#000" stroke-width="1.0"/>
<line x1="357.48" y1="366.12" x2="361.27" y2="366.12" stroke="#000" stroke-width="1.0"/>
<rect x="332.38" y="405.85" width="18.00" height="56.75" fill="#fff" stroke="#000" stroke-width="0.9"/>
<rect x="350.38" y="386.56" width="18.00" height="76.05" fill="#000" stroke="#000" stroke-width="0.9"/>
<text x="320.18" y="476.20" font-size="7.4" text-anchor="start" font-weight="bold" fill="#000">CHYMOT</text>
<text x="353.57" y="476.20" font-size="7.4" text-anchor="start" font-weight="bold" fill="#000">RYPSIN</text>
<line x1="422.93" y1="368.40" x2="422.93" y2="361.02" stroke="#000" stroke-width="1.0"/>
<line x1="421.03" y1="361.02" x2="424.82" y2="361.02" stroke="#000" stroke-width="1.0"/>
<rect x="395.93" y="405.85" width="18.00" height="56.75" fill="#fff" stroke="#000" stroke-width="0.9"/>
<rect x="413.93" y="368.40" width="18.00" height="94.20" fill="#000" stroke="#000" stroke-width="0.9"/>
<text x="398.32" y="476.20" font-size="7.4" text-anchor="start" font-weight="bold" fill="#000">T</text>
<text x="403.62" y="476.20" font-size="7.4" text-anchor="start" font-weight="bold" fill="#000">RYPSIN</text>
<line x1="468.48" y1="405.85" x2="468.48" y2="404.72" stroke="#000" stroke-width="1.0"/>
<line x1="466.58" y1="404.72" x2="470.38" y2="404.72" stroke="#000" stroke-width="1.0"/>
<line x1="486.48" y1="364.99" x2="486.48" y2="362.15" stroke="#000" stroke-width="1.0"/>
<line x1="484.58" y1="362.15" x2="488.38" y2="362.15" stroke="#000" stroke-width="1.0"/>
<rect x="459.48" y="405.85" width="18.00" height="56.75" fill="#fff" stroke="#000" stroke-width="0.9"/>
<rect x="477.48" y="364.99" width="18.00" height="97.61" fill="#000" stroke="#000" stroke-width="0.9"/>
<text x="477.48" y="476.20" font-size="7.4" text-anchor="middle" font-weight="bold" fill="#000">CASPASE LIKE</text>
<rect x="396.20" y="349.10" width="4.00" height="4.00" fill="#fff" stroke="#000" stroke-width="0.8"/>
<text x="402.90" y="354.50" font-size="9.6" text-anchor="start" stroke="#000" stroke-width="0.22" fill="#000">JEKO-PT</text>
<rect x="446.80" y="349.10" width="4.00" height="4.00" fill="#000" stroke="#000" stroke-width="0.8"/>
<text x="453.50" y="354.50" font-size="9.6" text-anchor="start" stroke="#000" stroke-width="0.22" fill="#000">JEKO -BR</text>
<polygon points="342.60,367.90 343.39,369.71 345.36,369.90 343.88,371.22 344.30,373.15 342.60,372.15 340.90,373.15 341.32,371.22 339.84,369.90 341.81,369.71" fill="#000"/>
<text x="293.60" y="408.70" font-size="9.35" text-anchor="middle" font-weight="bold" transform="rotate(-90 293.60 408.70)" fill="#000">% Proteasome activity</text>
<line x1="59.20" y1="518.50" x2="59.20" y2="625.30" stroke="#7a7a7a" stroke-width="1"/>
<line x1="59.20" y1="625.30" x2="254.60" y2="625.30" stroke="#7a7a7a" stroke-width="1"/>
<line x1="56.70" y1="625.30" x2="59.20" y2="625.30" stroke="#7a7a7a" stroke-width="1"/>
<text x="50.70" y="628.30" font-size="8.6" text-anchor="end" stroke="#000" stroke-width="0.22" fill="#000">0</text>
<line x1="56.70" y1="605.96" x2="59.20" y2="605.96" stroke="#7a7a7a" stroke-width="1"/>
<text x="50.70" y="608.96" font-size="8.6" text-anchor="end" stroke="#000" stroke-width="0.22" fill="#000">20</text>
<line x1="56.70" y1="586.62" x2="59.20" y2="586.62" stroke="#7a7a7a" stroke-width="1"/>
<text x="50.70" y="589.62" font-size="8.6" text-anchor="end" stroke="#000" stroke-width="0.22" fill="#000">40</text>
<line x1="56.70" y1="567.28" x2="59.20" y2="567.28" stroke="#7a7a7a" stroke-width="1"/>
<text x="50.70" y="570.28" font-size="8.6" text-anchor="end" stroke="#000" stroke-width="0.22" fill="#000">60</text>
<line x1="56.70" y1="547.94" x2="59.20" y2="547.94" stroke="#7a7a7a" stroke-width="1"/>
<text x="50.70" y="550.94" font-size="8.6" text-anchor="end" stroke="#000" stroke-width="0.22" fill="#000">80</text>
<line x1="56.70" y1="528.60" x2="59.20" y2="528.60" stroke="#7a7a7a" stroke-width="1"/>
<text x="50.70" y="531.60" font-size="8.6" text-anchor="end" stroke="#000" stroke-width="0.22" fill="#000">100</text>
<line x1="135.80" y1="625.30" x2="135.80" y2="627.80" stroke="#7a7a7a" stroke-width="1"/>
<line x1="254.60" y1="625.30" x2="254.60" y2="627.80" stroke="#7a7a7a" stroke-width="1"/>
<text x="135.80" y="639.60" font-size="8.4" text-anchor="middle" stroke="#000" stroke-width="0.22" fill="#000">6</text>
<text x="254.80" y="639.60" font-size="8.4" text-anchor="middle" stroke="#000" stroke-width="0.22" fill="#000">5</text>
<path d="M63.00 528.50C68.58 528.48 87.10 528.47 96.50 528.40C105.90 528.33 109.32 520.30 119.40 528.10C129.48 535.90 148.45 564.90 157.00 575.20C165.55 585.50 164.33 586.10 170.70 589.90C177.07 593.70 191.12 596.65 195.20 598.00" fill="none" stroke="#000" stroke-width="1.1"/>
<path d="M69.80 528.50C75.45 534.48 89.88 552.37 103.70 564.40C117.52 576.43 128.57 594.10 152.70 600.70C176.83 607.30 232.53 603.45 248.50 604.00" fill="none" stroke="#333" stroke-width="1" stroke-dasharray="2.5 1"/>
<rect x="61.05" y="526.55" width="3.9" height="3.9" fill="#000"/>
<rect x="94.55" y="526.45" width="3.9" height="3.9" fill="#000"/>
<rect x="117.45" y="526.15" width="3.9" height="3.9" fill="#000"/>
<rect x="155.05" y="573.25" width="3.9" height="3.9" fill="#000"/>
<rect x="168.75" y="587.95" width="3.9" height="3.9" fill="#000"/>
<rect x="193.25" y="596.05" width="3.9" height="3.9" fill="#000"/>
<path d="M69.80 525.80L72.50 528.50L69.80 531.20L67.10 528.50Z" fill="#000"/>
<path d="M103.70 561.70L106.40 564.40L103.70 567.10L101.00 564.40Z" fill="#000"/>
<path d="M152.70 598.00L155.40 600.70L152.70 603.40L150.00 600.70Z" fill="#000"/>
<path d="M248.50 601.30L251.20 604.00L248.50 606.70L245.80 604.00Z" fill="#000"/>
<line x1="65.50" y1="605.75" x2="79.50" y2="605.75" stroke="#333" stroke-width="1" stroke-dasharray="2.5 1"/>
<path d="M72.50 603.25L75.00 605.75L72.50 608.25L70.00 605.75Z" fill="#000"/>
<line x1="65.50" y1="616.25" x2="79.50" y2="616.25" stroke="#000" stroke-width="1.1"/>
<rect x="70.80" y="614.55" width="3.4" height="3.4" fill="#000"/>
<text x="81.00" y="608.85" font-size="8.6" text-anchor="start" stroke="#000" stroke-width="0.22" fill="#000">HBL2-PT</text>
<text x="81.00" y="619.35" font-size="8.6" text-anchor="start" stroke="#000" stroke-width="0.22" fill="#000">HBL2-BR</text>
<text x="37.30" y="571.90" font-size="10.2" text-anchor="middle" font-weight="bold" transform="rotate(-90 37.30 571.90)" fill="#000">% Viability</text>
<text x="99.60" y="650.70" font-size="9.4" font-weight="bold" fill="#000" textLength="140.70" lengthAdjust="spacingAndGlyphs">Log <tspan font-size="6.8" dy="1.6">10</tspan><tspan dy="-1.6"> (chymotrypsin activity)</tspan></text>
<line x1="309.00" y1="517.00" x2="309.00" y2="623.40" stroke="#7a7a7a" stroke-width="1"/>
<line x1="309.00" y1="623.40" x2="505.00" y2="623.40" stroke="#7a7a7a" stroke-width="1"/>
<line x1="306.50" y1="623.40" x2="309.00" y2="623.40" stroke="#7a7a7a" stroke-width="1"/>
<text x="301.00" y="626.40" font-size="8.6" text-anchor="end" stroke="#000" stroke-width="0.22" fill="#000">0</text>
<line x1="306.50" y1="604.10" x2="309.00" y2="604.10" stroke="#7a7a7a" stroke-width="1"/>
<text x="301.00" y="607.10" font-size="8.6" text-anchor="end" stroke="#000" stroke-width="0.22" fill="#000">20</text>
<line x1="306.50" y1="584.80" x2="309.00" y2="584.80" stroke="#7a7a7a" stroke-width="1"/>
<text x="301.00" y="587.80" font-size="8.6" text-anchor="end" stroke="#000" stroke-width="0.22" fill="#000">40</text>
<line x1="306.50" y1="565.50" x2="309.00" y2="565.50" stroke="#7a7a7a" stroke-width="1"/>
<text x="301.00" y="568.50" font-size="8.6" text-anchor="end" stroke="#000" stroke-width="0.22" fill="#000">60</text>
<line x1="306.50" y1="546.20" x2="309.00" y2="546.20" stroke="#7a7a7a" stroke-width="1"/>
<text x="301.00" y="549.20" font-size="8.6" text-anchor="end" stroke="#000" stroke-width="0.22" fill="#000">80</text>
<line x1="306.50" y1="526.90" x2="309.00" y2="526.90" stroke="#7a7a7a" stroke-width="1"/>
<text x="301.00" y="529.90" font-size="8.6" text-anchor="end" stroke="#000" stroke-width="0.22" fill="#000">100</text>
<line x1="374.00" y1="623.40" x2="374.00" y2="625.90" stroke="#7a7a7a" stroke-width="1"/>
<line x1="505.00" y1="623.40" x2="505.00" y2="625.90" stroke="#7a7a7a" stroke-width="1"/>
<text x="374.00" y="638.30" font-size="8.4" text-anchor="middle" stroke="#000" stroke-width="0.22" fill="#000">6</text>
<text x="504.20" y="638.30" font-size="8.4" text-anchor="middle" stroke="#000" stroke-width="0.22" fill="#000">5</text>
<path d="M310.40 526.90C317.45 527.00 342.25 527.27 352.70 527.50C363.15 527.73 366.15 526.73 373.10 528.30C380.05 529.87 387.48 532.23 394.40 536.90C401.32 541.57 407.83 547.63 414.60 556.30C421.37 564.97 428.13 581.67 435.00 588.90C441.87 596.13 452.33 597.90 455.80 599.70" fill="none" stroke="#000" stroke-width="1.1"/>
<path d="M330.60 526.90C340.70 533.07 376.48 551.47 391.20 563.90C405.92 576.33 409.48 592.17 418.90 601.50C428.32 610.83 438.18 616.75 447.70 619.90C457.22 623.05 471.28 620.32 476.00 620.40" fill="none" stroke="#333" stroke-width="1" stroke-dasharray="2.5 1"/>
<rect x="308.45" y="524.95" width="3.9" height="3.9" fill="#000"/>
<rect x="350.75" y="525.55" width="3.9" height="3.9" fill="#000"/>
<rect x="371.15" y="526.35" width="3.9" height="3.9" fill="#000"/>
<rect x="392.45" y="534.95" width="3.9" height="3.9" fill="#000"/>
<rect x="412.65" y="554.35" width="3.9" height="3.9" fill="#000"/>
<rect x="433.05" y="586.95" width="3.9" height="3.9" fill="#000"/>
<rect x="453.85" y="597.75" width="3.9" height="3.9" fill="#000"/>
<path d="M330.60 524.20L333.30 526.90L330.60 529.60L327.90 526.90Z" fill="#000"/>
<path d="M391.20 561.20L393.90 563.90L391.20 566.60L388.50 563.90Z" fill="#000"/>
<path d="M418.90 598.80L421.60 601.50L418.90 604.20L416.20 601.50Z" fill="#000"/>
<path d="M447.70 617.20L450.40 619.90L447.70 622.60L445.00 619.90Z" fill="#000"/>
<path d="M476.00 617.70L478.70 620.40L476.00 623.10L473.30 620.40Z" fill="#000"/>
<line x1="312.20" y1="603.80" x2="328.00" y2="603.80" stroke="#333" stroke-width="1" stroke-dasharray="2.5 1"/>
<path d="M320.10 601.30L322.60 603.80L320.10 606.30L317.60 603.80Z" fill="#000"/>
<line x1="312.20" y1="613.90" x2="328.00" y2="613.90" stroke="#000" stroke-width="1.1"/>
<rect x="318.40" y="612.20" width="3.4" height="3.4" fill="#000"/>
<text x="329.50" y="606.90" font-size="8.6" text-anchor="start" stroke="#000" stroke-width="0.22" fill="#000">JEKO-PT</text>
<text x="329.50" y="617.00" font-size="8.6" text-anchor="start" stroke="#000" stroke-width="0.22" fill="#000">JEKO-BR</text>
<text x="287.30" y="571.80" font-size="10.2" text-anchor="middle" font-weight="bold" transform="rotate(-90 287.30 571.80)" fill="#000">% Viability</text>
<text x="342.50" y="647.60" font-size="9.4" font-weight="bold" fill="#000" textLength="140.80" lengthAdjust="spacingAndGlyphs">Log <tspan font-size="6.8" dy="1.6">10</tspan><tspan dy="-1.6">(chymotrypsin activity)</tspan></text>
</svg>
</body></html>
